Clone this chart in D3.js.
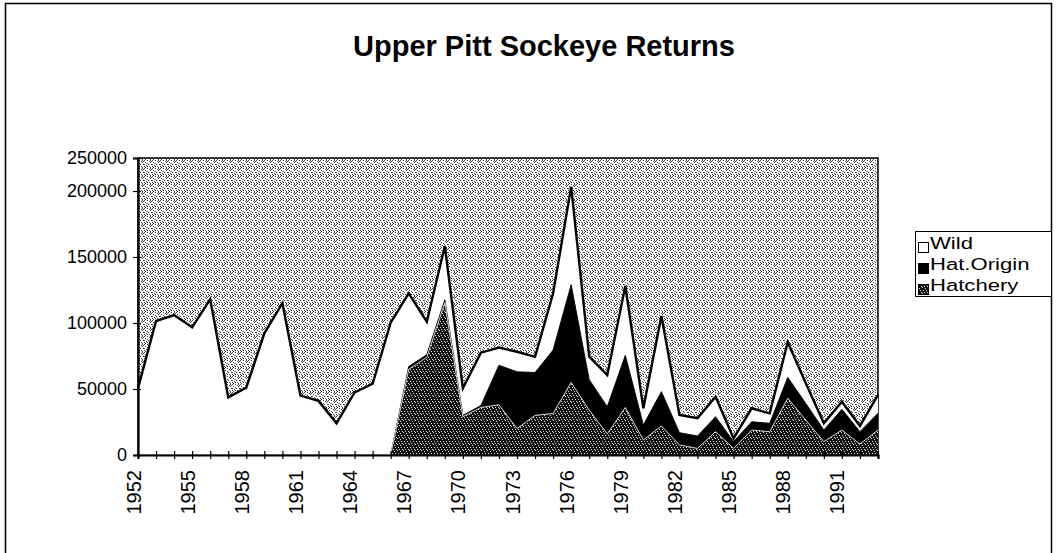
<!DOCTYPE html>
<html>
<head>
<meta charset="utf-8">
<script src="https://cdn.jsdelivr.net/npm/d3@7"></script>
<style>
  body { margin: 0; background: #fff; }
  svg { display: block; font-family: "Liberation Sans", Arial, sans-serif; }
</style>
</head>
<body>
<div id="vis"></div>
<script>
// Upper Pitt sockeye returns, 1952-1993
var years = [1952, 1953, 1954, 1955, 1956, 1957, 1958, 1959, 1960, 1961, 1962, 1963, 1964, 1965,
  1966, 1967, 1968, 1969, 1970, 1971, 1972, 1973, 1974, 1975, 1976, 1977, 1978, 1979,
  1980, 1981, 1982, 1983, 1984, 1985, 1986, 1987, 1988, 1989, 1990, 1991, 1992, 1993];

var wild = [50500, 101500, 106000, 96700, 118000, 43700, 51000, 92200, 115000, 45000, 41000, 24000, 47500, 54000,
  100200, 55500, 25000, 40800, 20500, 40000, 13400, 15200, 11900, 43000, 77500, 17500, 24000, 52500,
  12700, 57300, 13400, 13400, 15200, 2500, 10200, 7600, 26600, 15200, 5100, 5800, 4300, 13900];

var hatOrigin = [0, 0, 0, 0, 0, 0, 0, 0, 0, 0, 0, 0, 0, 0,
  0, 2000, 2000, 2000, 1000, 1500, 30000, 43000, 32500, 48000, 74000, 23000, 20600, 39500,
  11300, 26000, 9300, 9400, 11300, 5100, 6300, 6300, 15800, 12600, 8800, 15700, 9400, 12700];

var hatchery = [0, 0, 0, 0, 0, 0, 0, 0, 0, 0, 0, 0, 0, 0,
  0, 65000, 74000, 115500, 29000, 36000, 38000, 20000, 30000, 31500, 55000, 34000, 16000, 36000,
  11400, 22000, 7600, 5000, 17700, 5000, 18900, 17700, 43000, 26500, 10100, 18900, 8300, 18900];

var yTicks = [0, 50000, 100000, 150000, 200000, 250000];
var seriesNames = ['Wild', 'Hat.Origin', 'Hatchery'];

var width = 1057;
var height = 553;
var plot = { left: 138, right: 878, top: 158, bottom: 455 };

var svg = d3.select('#vis').append('svg')
  .attr('width', width)
  .attr('height', height);

// dithered fills, to look like the old laser print
var defs = svg.append('defs');

function dither(id, size, base, dot, pts) {
  var p = defs.append('pattern')
    .attr('id', id)
    .attr('width', size).attr('height', size)
    .attr('patternUnits', 'userSpaceOnUse');
  p.append('rect').attr('width', size).attr('height', size).attr('fill', base);
  pts.forEach(function (q) {
    p.append('rect').attr('x', q[0]).attr('y', q[1]).attr('width', 1).attr('height', 1).attr('fill', dot);
  });
}

dither('dither-light', 8, '#fff', '#3c3c3c',
  [[0, 0], [3, 0], [6, 0], [5, 1], [1, 2], [6, 2], [3, 3], [0, 4], [4, 4], [7, 4],
   [2, 5], [5, 6], [1, 7], [6, 7], [3, 6], [0, 6], [7, 1]]);

dither('dither-dark', 6, '#111', '#e0e0e0',
  [[1, 0], [4, 1], [2, 3], [5, 3], [0, 5], [3, 5]]);

// outer frame of the chart
svg.append('rect')
  .attr('x', 5.5).attr('y', 3.5)
  .attr('width', 1046).attr('height', 600)
  .attr('fill', 'none')
  .attr('stroke', '#000')
  .attr('stroke-width', 1.5);

// title
svg.append('text')
  .attr('x', 544)
  .attr('y', 56)
  .attr('text-anchor', 'middle')
  .attr('font-size', 29)
  .attr('font-weight', 'bold')
  .text('Upper Pitt Sockeye Returns');

var x = d3.scaleLinear()
  .domain([years[0], years[years.length - 1]])
  .range([plot.left, plot.right]);

// the scan squeezes the top band (200000-250000), so keep that break
var y = d3.scaleLinear()
  .domain([0, 200000, 250000])
  .range([plot.bottom, 191, plot.top]);

// plot area background
svg.append('rect')
  .attr('x', plot.left).attr('y', plot.top)
  .attr('width', plot.right - plot.left)
  .attr('height', plot.bottom - plot.top)
  .attr('fill', 'url(#dither-light)')
  .attr('stroke', '#000')
  .attr('stroke-width', 1.5);

// stack the three series, hatchery at the bottom
var rows = years.map(function (yr, i) {
  return { year: yr, hatchery: hatchery[i], origin: hatOrigin[i], wild: wild[i] };
});

var stack = d3.stack().keys(['hatchery', 'origin', 'wild']);
var layers = stack(rows);

var fills = { hatchery: 'url(#dither-dark)', origin: '#000', wild: '#fff' };

var area = d3.area()
  .x(function (d) { return x(d.data.year); })
  .y0(function (d) { return y(d[0]); })
  .y1(function (d) { return y(d[1]); });

var line = d3.line()
  .x(function (d) { return x(d.data.year); })
  .y(function (d) { return y(d[1]); });

svg.selectAll('.layer')
  .data(layers)
  .enter().append('path')
  .attr('class', 'layer')
  .attr('d', area)
  .attr('fill', function (d) { return fills[d.key]; });

// outline along the top of each band
svg.selectAll('.edge')
  .data(layers.slice().reverse())
  .enter().append('path')
  .attr('class', 'edge')
  .attr('d', line)
  .attr('fill', 'none')
  .attr('stroke', function (d) { return d.key === 'hatchery' ? '#d0d0d0' : '#000'; })
  .attr('stroke-width', function (d) { return d.key === 'wild' ? 2.4 : 1; })
  .attr('stroke-linejoin', 'miter');

// axes
var xAxis = d3.axisBottom(x)
  .tickValues(years)
  .tickSize(4)
  .tickFormat(function (d) { return (d - 1952) % 3 === 0 ? d : ''; });

var gx = svg.append('g')
  .attr('transform', 'translate(0,' + plot.bottom + ')')
  .call(xAxis);

gx.select('.domain').attr('stroke-width', 2.2);
gx.selectAll('.tick line').attr('y1', -4).attr('stroke-width', 1.2);
gx.selectAll('.tick text')
  .attr('font-size', 20)
  .attr('fill', '#000')
  .attr('text-anchor', 'end')
  .attr('dy', '0.35em')
  .attr('transform', 'translate(-5,15) rotate(-90)')
  .attr('x', 0)
  .attr('y', 0);

var yAxis = d3.axisLeft(y)
  .tickValues(yTicks)
  .tickSize(5)
  .tickFormat(d3.format('d'));

var gy = svg.append('g')
  .attr('transform', 'translate(' + plot.left + ',0)')
  .call(yAxis);

gy.select('.domain').attr('stroke-width', 2.2);
gy.selectAll('.tick line').attr('x1', 3).attr('stroke-width', 1.2);
gy.selectAll('.tick text')
  .attr('font-size', 18)
  .attr('fill', '#000')
  .attr('x', -11);

// legend
var legend = svg.append('g').attr('transform', 'translate(915,231)');

legend.append('rect')
  .attr('x', 0.5).attr('y', 0.5)
  .attr('width', 136).attr('height', 65)
  .attr('fill', '#fff')
  .attr('stroke', '#000');

var swatch = ['#fff', '#000', 'url(#dither-dark)'];

seriesNames.forEach(function (name, i) {
  var row = legend.append('g').attr('transform', 'translate(0,' + (2 + i * 21) + ')');
  row.append('rect')
    .attr('x', 3.5).attr('y', 9.5)
    .attr('width', 10).attr('height', 10)
    .attr('fill', swatch[i])
    .attr('stroke', '#000');
  // the scanned lettering is wide, so stretch it a little sideways
  row.append('text')
    .attr('transform', 'translate(15,16) scale(1.3,1)')
    .attr('font-size', 17)
    .text(name);
});
</script>
</body>
</html>
